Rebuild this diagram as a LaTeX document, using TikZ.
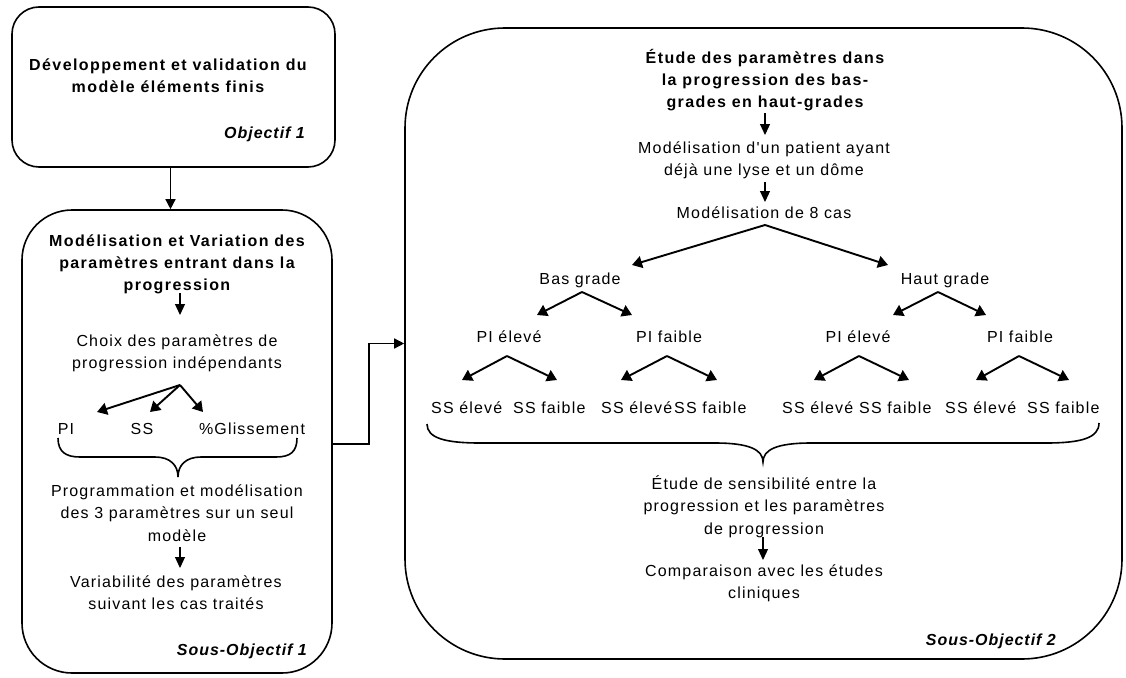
\documentclass[tikz,border=0pt]{standalone}
\usepackage{fontspec}
\setmainfont{Liberation Sans}[Ligatures=TeXOff, LetterSpace=7.3, BoldFeatures={LetterSpace=8.8}, BoldItalicFeatures={LetterSpace=6}]
\usetikzlibrary{arrows.meta}
\newcommand\regf{\fontsize{16}{22.5}\selectfont}
\newcommand\bldf{\fontsize{16}{22}\selectfont\bfseries}
\tikzset{
  box/.style={draw, line width=1.6pt, inner sep=0pt},
  txt/.style={inner sep=0pt, align=center, anchor=north, font=\regf},
  ttl/.style={inner sep=0pt, align=center, anchor=north, font=\bldf},
  lbl/.style={inner sep=0pt, anchor=base, font=\regf},
  lblw/.style={inner sep=0pt, anchor=base west, font=\regf},
  obj/.style={inner sep=0pt, anchor=base east, font=\bldf\itshape},
  small/.style={-{Triangle[width=10pt,length=11pt]}, line width=1.1pt},
  fork/.style={-{Triangle[width=12pt,length=10pt]}, line width=1.9pt},
  link/.style={-{Triangle[width=10pt,length=10pt]}, line width=1.4pt},
  bracepath/.style={line width=1.6pt},
}
\begin{document}
\begin{tikzpicture}[x=1pt,y=-1pt]
\useasboundingbox (0,0) rectangle (1126,677);
% boxes
\node[box, rounded corners=27pt, minimum width=323pt, minimum height=160pt] (b1) at (173.5,87) {};
\node[box, rounded corners=50pt, minimum width=310pt, minimum height=463pt] (b2) at (177,441.5) {};
\node[box, rounded corners=100pt, minimum width=717pt, minimum height=631pt] (b3) at (763.5,343.5) {};
% box 1
\node[ttl] (t1) at (168,54.6) {\strut Développement et validation du\\modèle éléments finis};
\node[obj] (o1) at (305,138) {Objectif 1};
\draw[link] ([xshift=-3pt]b1.south) -- ([xshift=-3pt]b1.south |- b2.north);
% box 2
\node[ttl] (t2) at (177,230.6) {\strut Modélisation et Variation des\\paramètres entrant dans la\\progression};
\coordinate (a2s) at (180,293); \coordinate (a2e) at (180,315);
\draw[small] (a2s) -- (a2e);
\node[txt] (choix) at (177,330.25) {\strut Choix des paramètres de\\progression indépendants};
\coordinate (f2) at (180,385);
\coordinate (f2a) at (97,412); \coordinate (f2b) at (150,412); \coordinate (f2c) at (203,412);
\draw[fork] (f2) -- (f2a);
\draw[fork] (f2) -- (f2b);
\draw[fork] (f2) -- (f2c);
\node[lbl] (pi) at (66,434) {PI};
\node[lbl] (ss) at (142,434) {SS};
\node[lbl] (gl) at (252,434) {\%Glissement};
\draw[bracepath] (58,438) .. controls (58,452) and (66,457) .. (80,457) -- (155,457) .. controls (170,457) and (178,465) .. (178,477) .. controls (178,465) and (186,457) .. (201,457) -- (276,457) .. controls (290,457) and (297,452) .. (297,438);
\node[txt] (prog) at (177,480.25) {\strut Programmation et modélisation\\des 3 paramètres sur un seul\\modèle};
\coordinate (a3s) at (180,547); \coordinate (a3e) at (180,568);
\draw[small] (a3s) -- (a3e);
\node[txt] (var) at (176,571.25) {\strut Variabilité des paramètres\\suivant les cas traités};
\node[obj] (o2) at (307,655) {Sous-Objectif 1};
% link box 2 -> box 3
\draw[link] ([yshift=-2.5pt]b2.east) -- ++(36,0) |- (b3.west);
% box 3
\node[ttl] (t3) at (765,47.6) {\strut Étude des paramètres dans\\la progression des bas-\\grades en haut-grades};
\coordinate (a4s) at (765,113); \coordinate (a4e) at (765,135);
\draw[small] (a4s) -- (a4e);
\node[txt] (pat) at (764,137.25) {\strut Modélisation d'un patient ayant\\déjà une lyse et un dôme};
\coordinate (a5s) at (765,182); \coordinate (a5e) at (765,202);
\draw[small] (a5s) -- (a5e);
\node[lbl] (cas) at (764,218) {Modélisation de 8 cas};
\coordinate (f3) at (765,225); \coordinate (f3a) at (632,265); \coordinate (f3b) at (888,265);
\draw[fork] (f3) -- (f3a);
\draw[fork] (f3) -- (f3b);
\node[lbl] (bas) at (580,284) {Bas grade};
\node[lbl] (haut) at (945,284) {Haut grade};
\coordinate (fb) at (582,292); \coordinate (fba) at (537,315); \coordinate (fbb) at (632,315);
\coordinate (fh) at (938,292); \coordinate (fha) at (893,315); \coordinate (fhb) at (986,315);
\draw[fork] (fb) -- (fba); \draw[fork] (fb) -- (fbb);
\draw[fork] (fh) -- (fha); \draw[fork] (fh) -- (fhb);
\node[lbl] (pe1) at (509,342) {PI élevé};
\node[lbl] (pf1) at (669,342) {PI faible};
\node[lbl] (pe2) at (858,342) {PI élevé};
\node[lbl] (pf2) at (1020,342) {PI faible};
\coordinate (g1) at (507,356); \coordinate (g1a) at (462,380); \coordinate (g1b) at (557,380);
\coordinate (g2) at (667,356); \coordinate (g2a) at (621,380); \coordinate (g2b) at (717,380);
\coordinate (g3) at (859,356); \coordinate (g3a) at (814,380); \coordinate (g3b) at (909,380);
\coordinate (g4) at (1019,356); \coordinate (g4a) at (976,380); \coordinate (g4b) at (1069,380);
\foreach \g in {g1,g2,g3,g4}{\draw[fork] (\g) -- (\g a); \draw[fork] (\g) -- (\g b);}
\node[lblw] (s1) at (431,413) {SS élevé};
\node[lblw] (s2) at (513,413) {SS faible};
\node[lblw] (s3) at (601,413) {SS élevé};
\node[lblw] (s4) at (674,413) {SS faible};
\node[lblw] (s5) at (782,413) {SS élevé};
\node[lblw] (s6) at (859,413) {SS faible};
\node[lblw] (s7) at (945,413) {SS élevé};
\node[lblw] (s8) at (1027,413) {SS faible};
\draw[bracepath] (427,424) .. controls (427,438) and (445,443) .. (480,443) -- (715,443) .. controls (750,443) and (763,450) .. (763,462) .. controls (763,450) and (776,443) .. (811,443) -- (1046,443) .. controls (1081,443) and (1099,438) .. (1099,423);
\node[txt] (etu) at (764,473.25) {\strut Étude de sensibilité entre la\\progression et les paramètres\\de progression};
\coordinate (a6s) at (763,537); \coordinate (a6e) at (763,560);
\draw[small] (a6s) -- (a6e);
\node[txt] (comp) at (764,560.25) {\strut Comparaison avec les études\\cliniques};
\node[obj] (o3) at (1056,645) {Sous-Objectif 2};
\end{tikzpicture}
\end{document}
